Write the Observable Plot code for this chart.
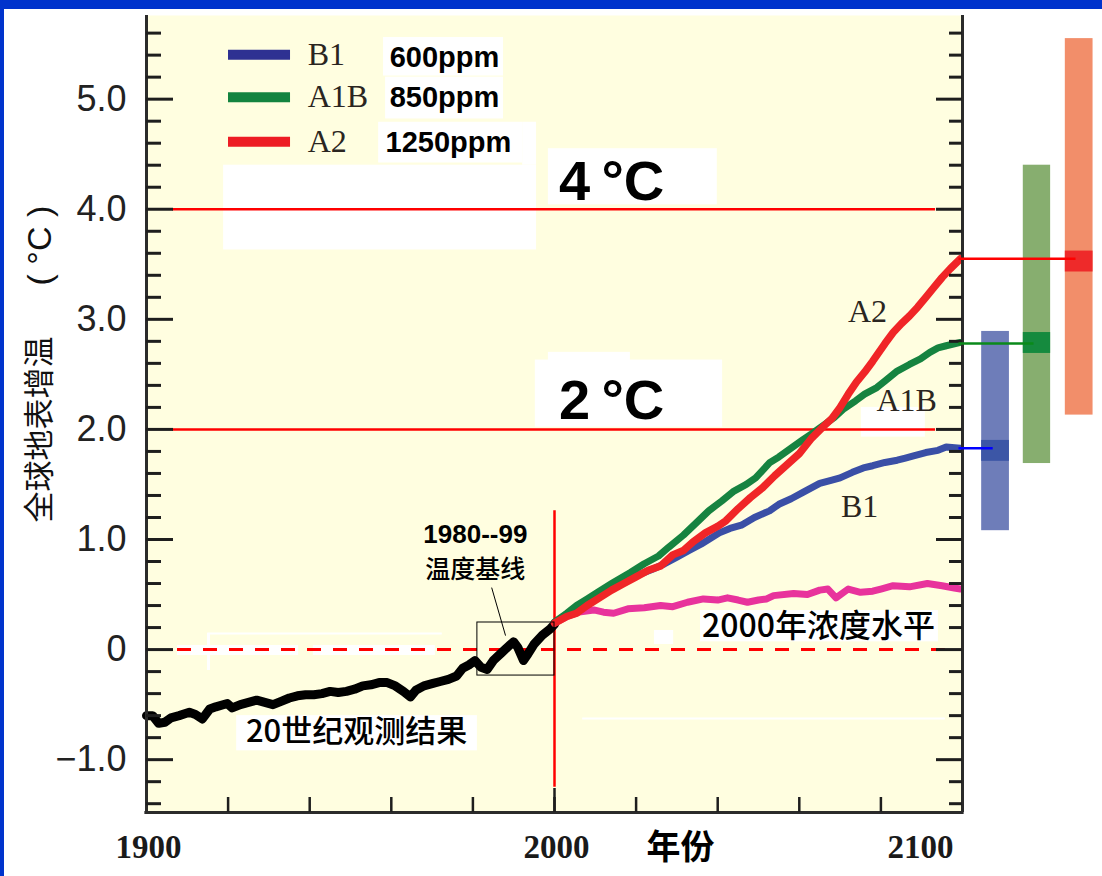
<!DOCTYPE html>
<html><head><meta charset="utf-8">
<script src="https://cdn.jsdelivr.net/npm/d3@7"></script>
<script src="https://cdn.jsdelivr.net/npm/@observablehq/plot@0.6"></script>
<style>
html,body{margin:0;padding:0;background:#fff;}
#wrap{position:relative;width:1102px;height:876px;overflow:hidden;background:#fff;}
#wrap svg{position:absolute;left:0;top:0;}
.bar-top{position:absolute;left:0;top:0;width:1102px;height:9px;background:#0033cc;}
.bar-left{position:absolute;left:0;top:0;width:4px;height:876px;background:#0033cc;}
</style></head><body>
<div id="wrap"><div class="bar-top"></div><div class="bar-left"></div></div>
<script>
// ---------------- data ----------------
const observed = [[1900,-0.60],[1901.5,-0.60],[1903,-0.67],[1904.5,-0.66],[1906,-0.62],[1908,-0.60],[1910.5,-0.57],[1912,-0.59],[1913.7,-0.63],[1915.5,-0.54],[1917,-0.52],[1919.8,-0.49],[1921,-0.53],[1923,-0.50],[1925,-0.48],[1927,-0.46],[1929,-0.48],[1931,-0.50],[1933,-0.47],[1935,-0.44],[1937,-0.42],[1939,-0.41],[1941,-0.41],[1943,-0.40],[1945,-0.38],[1947,-0.39],[1949,-0.38],[1951,-0.36],[1953,-0.33],[1955,-0.32],[1957,-0.30],[1959,-0.30],[1961,-0.33],[1963,-0.38],[1964.7,-0.43],[1966,-0.37],[1968,-0.33],[1970,-0.31],[1972,-0.29],[1974,-0.27],[1976,-0.24],[1977.5,-0.17],[1979,-0.14],[1980.5,-0.10],[1982,-0.16],[1983.5,-0.18],[1985,-0.10],[1987,-0.03],[1989,0.04],[1990,0.07],[1991,0.02],[1992.4,-0.10],[1993.5,-0.04],[1995,0.05],[1997,0.13],[1999,0.19],[2000,0.23]];
const constant2000 = [[2000,0.24],[2003,0.30],[2006,0.34],[2009.6,0.36],[2012,0.34],[2014.5,0.33],[2018,0.37],[2022,0.38],[2026,0.40],[2029,0.39],[2032.6,0.43],[2036.5,0.46],[2040,0.45],[2042.4,0.47],[2045,0.45],[2047.3,0.43],[2050,0.45],[2052,0.46],[2053.7,0.49],[2058.6,0.51],[2062,0.50],[2065,0.54],[2067,0.55],[2069,0.47],[2072,0.55],[2075,0.52],[2078,0.53],[2080,0.55],[2083,0.58],[2087,0.57],[2091.4,0.60],[2095,0.58],[2098,0.56],[2099.5,0.55]];
const seriesB1 = [[2000,0.25],[2004,0.33],[2008,0.42],[2012,0.52],[2016,0.62],[2020,0.67],[2024,0.73],[2027,0.78],[2030,0.84],[2033,0.90],[2036,0.96],[2040.4,1.06],[2043,1.10],[2045.8,1.13],[2049,1.20],[2052.7,1.26],[2055,1.32],[2058,1.37],[2061,1.43],[2065,1.51],[2068,1.54],[2070,1.56],[2073,1.61],[2075.7,1.65],[2078,1.67],[2081,1.70],[2084,1.72],[2086,1.74],[2088,1.76],[2091,1.79],[2094,1.81],[2096,1.84],[2099.5,1.83]];
const seriesA1B = [[2000,0.25],[2003,0.33],[2005.4,0.40],[2008,0.46],[2010.5,0.52],[2014,0.60],[2018.6,0.70],[2022,0.78],[2025.5,0.85],[2028,0.93],[2031.6,1.04],[2035,1.16],[2037.8,1.26],[2041,1.35],[2044,1.44],[2047,1.50],[2049.3,1.56],[2052.8,1.70],[2055,1.75],[2058,1.83],[2061,1.91],[2063,1.96],[2066,2.04],[2068.6,2.11],[2071,2.19],[2073.8,2.26],[2076,2.32],[2079,2.38],[2081,2.44],[2084,2.53],[2087,2.59],[2089.7,2.64],[2092,2.70],[2094,2.74],[2096,2.76],[2099.5,2.79]];
const seriesA2 = [[2000,0.24],[2003,0.30],[2005.4,0.33],[2008,0.40],[2011,0.47],[2014,0.54],[2017,0.60],[2020,0.66],[2023,0.72],[2026,0.76],[2029,0.86],[2031.6,0.90],[2034,0.98],[2037,1.06],[2040,1.12],[2042,1.17],[2045,1.28],[2048,1.38],[2051,1.47],[2054,1.58],[2057,1.68],[2060,1.78],[2063,1.92],[2066,2.03],[2068,2.10],[2070,2.20],[2072,2.32],[2074,2.43],[2076,2.52],[2078,2.62],[2081,2.78],[2083,2.88],[2085,2.96],[2087,3.03],[2089,3.11],[2091,3.20],[2093,3.29],[2095,3.38],[2097,3.46],[2099.5,3.55]];

const scenarios = ["B1", "A1B", "A2"];
const scenarioPpm = ["600ppm", "850ppm", "1250ppm"];
const rangeLow = [1.08, 1.69, 2.13];
const rangeHigh = [2.89, 4.40, 5.55];
const bestLow = [1.71, 2.69, 3.43];
const bestHigh = [1.90, 2.88, 3.62];
const bestValue = [1.83, 2.78, 3.55];

const yTickValues = [-1, 0, 1, 2, 3, 4, 5];
const yTickLabels = ["\u22121.0", "0", "1.0", "2.0", "3.0", "4.0", "5.0"];
const yMinorTicks = d3.range(-14, 57, 2).map(d => d / 10).filter(d => !Number.isInteger(d));
const xTickValues = [1920, 1940, 1960, 1980, 2000, 2020, 2040, 2060, 2080];
const xLabelValues = [1900, 2000];
const xLabelRight = [2100];
const thresholds = [4, 2];
const thresholdLabels = ["4\u2009\u00b0C", "2\u2009\u00b0C"];
const yTitle = "全球地表增温";
const yUnit = "( \u00b0C )";

// ---------------- layout / styling ----------------
const colLine = {B1: "#3a4fa6", A1B: "#168340", A2: "#f02527"};
const colLegend = {B1: "#2e3192", A1B: "#13843f", A2: "#ed1c24"};
const colBar = {B1: "#6e7db9", A1B: "#87ae6f", A2: "#f28e6a"};
const colBand = {B1: "#3c56a6", A1B: "#158a3e", A2: "#ee2a2a"};
const colConn = {B1: "#0000ff", A1B: "#0a8a1a", A2: "#ff0000"};
const barSlot = [[2104.7, 2111.5], [2114.9, 2121.6], [2125.2, 2132.0]];
const connEnd = [2107.4, 2117.4, 2127.7];
const legendY = [5.404, 5.018, 4.614];
const ppmY = [5.378, 5.015, 4.606];
const ppmX = [1959.6, 1959.6, 1958.6];

const fontSans = "'Liberation Sans', Arial, Helvetica, sans-serif";
const fontSerif = "'Liberation Serif', 'Times New Roman', serif";
const fontCJK = "'Noto Sans CJK SC', 'Noto Sans', sans-serif";

// white patches in the original artwork [x1, x2, y1, y2] (years, °C)
const patches = [
  [1918.9, 1995.6, 3.63, 4.40],
  [1958.1, 1987.5, 5.21, 5.56],
  [1958.6, 1987.5, 4.82, 5.20],
  [1956.9, 1992.2, 4.42, 4.79],
  [1992.2, 1995.6, 4.40, 4.79],
  [1998.5, 2039.9, 4.04, 4.55],
  [1995.3, 2041.2, 2.02, 2.63],
  [1998.5, 2018.6, 2.60, 2.70],
  [1922.1, 1981.1, -0.92, -0.60],
  [2035.8, 2094.1, 0.07, 0.355],
  [2075.2, 2090.9, 1.93, 2.20],
  [1907.6, 1937.3, -0.054, 0.037],
  [1940.9, 1970.8, -0.054, 0.037],
  [2024.5, 2029.2, 0.046, 0.173]
];

const tickL = 15 / 4.08, tickLMaj = 27 / 4.08, tickR = 13 / 4.08, tickRMaj = 26 / 4.08;
const y0 = -1.48;

const idx = [0, 1, 2];
const line = (data, color, w) => Plot.line(data, {x: d => d[0], y: d => d[1], stroke: color, strokeWidth: w, strokeLinejoin: "round", strokeLinecap: "round"});

const chart = Plot.plot({
  width: 1102, height: 876,
  marginLeft: 146, marginRight: 140, marginTop: 15, marginBottom: 64,
  x: {domain: [1900, 2100], axis: null},
  y: {domain: [y0, 5.76], axis: null},
  style: {fontFamily: fontSans, background: "transparent", overflow: "visible"},
  marks: [
    Plot.frame({fill: "#fffee0", stroke: "none"}),
    Plot.rect(patches, {x1: d => d[0], x2: d => d[1], y1: d => d[2], y2: d => d[3], fill: "white"}),
    Plot.ruleY([0.146], {x1: 1915, x2: 1972.5, stroke: "white", strokeWidth: 2}),
    Plot.ruleY([-0.626], {x1: 2006.9, x2: 2095.8, stroke: "white", strokeWidth: 2}),
    Plot.ruleX([1915.2], {y1: 0.146, y2: -0.19, stroke: "white", strokeWidth: 3}),
    // threshold lines
    Plot.ruleY(thresholds, {x1: 1906.4, x2: 2093.4, stroke: "#ff0000", strokeWidth: 2.5}),
    Plot.ruleY([0], {x1: 1907.6, x2: 2095.8, stroke: "#ff0000", strokeWidth: 3, strokeDasharray: "14,12"}),
    Plot.ruleX([2000], {y1: 1.26, y2: -1.25, stroke: "#ff0000", strokeWidth: 2.5}),
    // series
    line(observed, "#000000", 9),
    line(constant2000, "#e8339c", 7),
    line(seriesB1, colLine.B1, 7),
    line(seriesA1B, colLine.A1B, 7),
    line(seriesA2, colLine.A2, 7.5),
    // baseline box and leader
    Plot.rect([0], {x1: 1981.1, x2: 2000, y1: -0.236, y2: 0.246, fill: "none", stroke: "#000", strokeWidth: 1}),
    Plot.link([0], {x1: 1984.6, y1: 0.563, x2: 1988, y2: 0.127, stroke: "#000", strokeWidth: 1}),
    // likely ranges at 2100
    Plot.rect(idx, {x1: i => barSlot[i][0], x2: i => barSlot[i][1], y1: i => rangeLow[i], y2: i => rangeHigh[i], fill: i => colBar[scenarios[i]]}),
    Plot.rect(idx, {x1: i => barSlot[i][0], x2: i => barSlot[i][1], y1: i => bestLow[i], y2: i => bestHigh[i], fill: i => colBand[scenarios[i]]}),
    // axes lines and ticks
    Plot.ruleX([1900, 2100], {stroke: "#2b2b2b", strokeWidth: 3}),
    Plot.ruleY([y0], {x1: 1899.6, x2: 2100.4, stroke: "#2b2b2b", strokeWidth: 3}),
    Plot.ruleY(yMinorTicks, {x1: 1900, x2: 1900 + tickL, stroke: "#1e1e1e", strokeWidth: 3}),
    Plot.ruleY(yTickValues, {x1: 1900, x2: 1900 + tickLMaj, stroke: "#1e1e1e", strokeWidth: 3}),
    Plot.ruleY(yMinorTicks, {x1: 2100 - tickR, x2: 2100, stroke: "#1e1e1e", strokeWidth: 3}),
    Plot.ruleY(yTickValues, {x1: 2100 - tickRMaj, x2: 2100, stroke: "#1e1e1e", strokeWidth: 3}),
    Plot.ruleX(xTickValues, {y1: y0, y2: y0 + 15 / 110.08, stroke: "#1e1e1e", strokeWidth: 2.5}),
    Plot.ruleX([2000], {y1: y0, y2: y0 + 24 / 110.08, stroke: "#1e1e1e", strokeWidth: 2.5}),
    // connectors
    Plot.link(idx, {x1: 2099, x2: i => connEnd[i], y1: i => bestValue[i], y2: i => bestValue[i], stroke: i => colConn[scenarios[i]], strokeWidth: 2.5}),
    // tick labels
    Plot.text(yTickValues, {y: d => d, text: (d, i) => yTickLabels[i], frameAnchor: "left", dx: -20, textAnchor: "end", lineAnchor: "middle", fontSize: 36, fill: "#222", fontFamily: fontSans}),
    Plot.text(xLabelValues, {x: d => d, text: d => String(d), frameAnchor: "bottom", lineAnchor: "middle", dx: 2, dy: 35, fontSize: 33, fontWeight: "bold", fontFamily: fontSerif, fill: "#1a1a1a"}),
    Plot.text(xLabelRight, {x: d => d, text: d => String(d), frameAnchor: "bottom", lineAnchor: "middle", dx: -42, dy: 35, fontSize: 33, fontWeight: "bold", fontFamily: fontSerif, fill: "#1a1a1a"}),
    Plot.text(["年份"], {x: 2030.9, frameAnchor: "bottom", lineAnchor: "middle", dy: 36, fontSize: 34, fontWeight: "bold", fontFamily: fontCJK, fill: "#000"}),
    Plot.text([yTitle], {y: 2.00, frameAnchor: "left", textAnchor: "middle", lineAnchor: "middle", dx: -106, rotate: -90, fontSize: 31, fontFamily: fontCJK, fill: "#111"}),
    Plot.text([yUnit], {y: 3.67, frameAnchor: "left", textAnchor: "middle", lineAnchor: "middle", dx: -106, rotate: -90, fontSize: 34, fontFamily: fontSans, fill: "#111"}),
    // threshold labels
    Plot.text(thresholds, {x: 2014, y: (d, i) => [4.25, 2.26][i], text: (d, i) => thresholdLabels[i], fontSize: 56, fontWeight: "bold", fontFamily: fontSans, fill: "#000"}),
    // curve labels
    Plot.text(["A2", "A1B", "B1"], {x: [2076.7, 2086.3, 2074.8], y: [3.07, 2.26, 1.30], text: d => d, fontSize: 32, fontFamily: fontSerif, fill: "#2a2520"}),
    Plot.text(["1980--99"], {x: 1980.6, y: 1.04, fontSize: 26, fontWeight: "bold", fontFamily: fontSans, fill: "#000"}),
    Plot.text(["温度基线"], {x: 1980.6, y: 0.725, fontSize: 25, fontWeight: 500, fontFamily: fontCJK, fill: "#000"}),
    Plot.text(["20世纪观测结果"], {x: 1951.5, y: -0.753, fontSize: 31, fontWeight: 500, fontFamily: fontCJK, fill: "#000"}),
    Plot.text(["2000年浓度水平"], {x: 2064.7, y: 0.209, fontSize: 32, fontWeight: 500, fontFamily: fontCJK, fill: "#000"}),
    // legend
    Plot.ruleY(idx, {y: i => legendY[i], x1: 1920.1, x2: 1935.3, stroke: i => colLegend[scenarios[i]], strokeWidth: 10}),
    Plot.text(idx, {x: 1939.5, y: i => legendY[i], text: i => scenarios[i], textAnchor: "start", fontSize: 32, fontFamily: fontSerif, fill: "#2a2520"}),
    Plot.text(idx, {x: i => ppmX[i], y: i => ppmY[i], text: i => scenarioPpm[i], textAnchor: "start", fontSize: 29, fontWeight: "bold", fontFamily: fontSans, fill: "#000"})
  ]
});
const wrap = document.getElementById("wrap");
wrap.insertBefore(chart, wrap.firstChild);
</script>
</body></html>
